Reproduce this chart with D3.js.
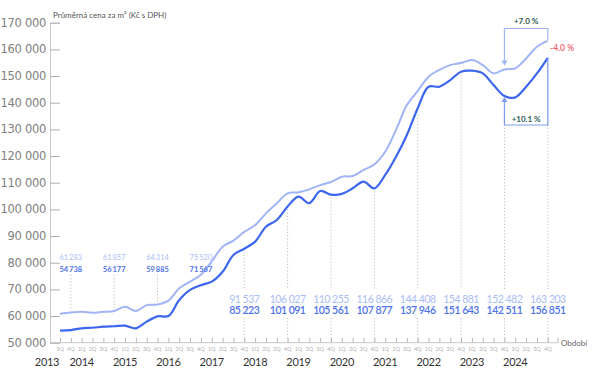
<!DOCTYPE html>
<html><head><meta charset="utf-8">
<script src="https://cdn.jsdelivr.net/npm/d3@7"></script>
<style>
html,body{margin:0;padding:0;background:#fff;}
svg{display:block;font-family:Lato,"Open Sans",sans-serif;}
</style></head>
<body><svg id="c" width="600" height="380"></svg>
<script>
const quarterLabels = ["3Q","4Q",
 "1Q","2Q","3Q","4Q","1Q","2Q","3Q","4Q","1Q","2Q","3Q","4Q",
 "1Q","2Q","3Q","4Q","1Q","2Q","3Q","4Q","1Q","2Q","3Q","4Q",
 "1Q","2Q","3Q","4Q","1Q","2Q","3Q","4Q","1Q","2Q","3Q","4Q",
 "1Q","2Q","3Q","4Q","1Q","2Q","3Q","4Q"];
const years = [2013,2014,2015,2016,2017,2018,2019,2020,2021,2022,2023,2024];
const yearStartIndex = [-1,2,6,10,14,18,22,26,30,34,38,42];
const offerPrice = [60800,61283,61600,61250,61600,61857,63500,61900,64100,64314,65750,70400,72900,75520,
 80500,86000,88300,91537,94100,98500,102300,106027,106400,107500,109100,110255,112250,112500,114800,116866,
 121600,129800,139100,144408,149750,152300,154100,154881,156000,154100,151000,152482,152900,156600,161000,163203];
const salePrice = [54500,54738,55400,55600,56000,56177,56400,55400,57900,59885,60000,66000,69800,71567,
 72900,76600,82900,85223,87900,93500,96000,101091,104750,102300,106900,105561,105800,107900,110400,107877,
 112900,119750,127900,137946,146000,146000,148500,151643,152000,151000,146600,142511,142000,146000,151000,156851];
const labelIdx = [1,5,9,13,17,21,25,29,33,37,41,45];
const yTicks = [50000,60000,70000,80000,90000,100000,110000,120000,130000,140000,150000,160000,170000];
const changes = ["+7.0 %","+10.1 %","-4.0 %"];

const svg = d3.select("#c");
const x = d3.scaleLinear().domain([0,45]).range([60,547.8]);
const y = d3.scaleLinear().domain([50000,170000]).range([342.7,22.7]);
const fmt = v => d3.format(",")(v).replace(/,/g,"\u2009");
const fmtS = v => d3.format(",")(v).replace(/,/g," ");
const fmtY = v => d3.format(",")(v).replace(/,/g," ");

const DARK="#3c66f0", LIGHT="#9fb5f7", GRID="#bdbdbd", AX="#c8c8c8";

// y axis
const yAxis = svg.append("g").attr("transform","translate(50,0)")
 .call(d3.axisRight(y).tickValues(yTicks).tickSize(10).tickFormat(""));
yAxis.select(".domain").attr("stroke",AX);
yAxis.selectAll(".tick line").attr("stroke","#b0b0b0");
svg.append("g").selectAll("text").data(yTicks).join("text")
 .attr("x",46).attr("y",d=>y(d)+4).attr("text-anchor","end")
 .attr("font-size",11.5).attr("fill","#808080").attr("font-family","'DejaVu Sans',sans-serif")
 .attr("letter-spacing",-0.3).text(fmtY);
svg.append("text").attr("x",53).attr("y",18).attr("font-size",8).attr("fill","#555")
 .text("Průměrná cena za m² (Kč s DPH)");

// x axis
const xAxis = svg.append("g").attr("transform","translate(0,342.7)")
 .call(d3.axisTop(x).tickValues(d3.range(46)).tickSize(5).tickFormat("").tickSizeOuter(0));
xAxis.select(".domain").attr("stroke",AX).attr("d","M50,0H558");
xAxis.selectAll(".tick line").attr("stroke","#b8b8b8");
svg.append("line").attr("x1",558).attr("x2",558).attr("y1",337.7).attr("y2",342.7).attr("stroke","#b8b8b8");
svg.append("g").selectAll("text").data(quarterLabels).join("text")
 .attr("x",(d,i)=>x(i)).attr("y",350.5).attr("text-anchor","middle")
 .attr("font-size",5.5).attr("fill","#b0b0b0").text(d=>d);
svg.append("g").selectAll("text").data(years).join("text")
 .attr("x",(d,i)=>i===0?47:x(yearStartIndex[i])).attr("y",366).attr("text-anchor","middle")
 .attr("font-size",11).attr("fill","#333").attr("letter-spacing",-0.3).text(d=>d);
svg.append("text").attr("x",561).attr("y",345.5).attr("font-size",8).attr("fill","#666").text("Období");

// dotted guides
const guides = svg.append("g").attr("stroke",GRID).attr("stroke-dasharray","1.2,2").attr("stroke-width",1);
labelIdx.forEach((i,k)=>{
  const xx = x(i);
  if(k<4){
    const yl = y(offerPrice[i]);
    if(yl>276) guides.append("line").attr("x1",xx).attr("x2",xx).attr("y1",275).attr("y2",yl-2);
  } else {
    guides.append("line").attr("x1",xx).attr("x2",xx).attr("y1",y(salePrice[i])+3).attr("y2",289);
    guides.append("line").attr("x1",xx).attr("x2",xx).attr("y1",318).attr("y2",342);
  }
});

// lines
const line = d3.line().x((d,i)=>x(i)).y(d=>y(d)).curve(d3.curveCatmullRom.alpha(0.5));
svg.append("path").attr("d",line(offerPrice)).attr("fill","none").attr("stroke",LIGHT).attr("stroke-width",2);
svg.append("path").attr("d",line(salePrice)).attr("fill","none").attr("stroke",DARK).attr("stroke-width",2.2);

// value labels
labelIdx.forEach((i,k)=>{
  const xx = x(i);
  if(k<4){
    svg.append("text").attr("x",xx).attr("y",260).attr("text-anchor","middle")
     .attr("font-size",7.5).attr("fill","#a9bcf7").text(fmt(offerPrice[i]));
    svg.append("text").attr("x",xx).attr("y",272).attr("text-anchor","middle")
     .attr("font-size",7.5).attr("font-weight",700).attr("fill","#4d72ea").text(fmt(salePrice[i]));
  } else {
    svg.append("text").attr("x",xx).attr("y",302.5).attr("text-anchor","middle")
     .attr("font-size",10.5).attr("letter-spacing",-0.5).attr("fill","#a9bcf7").text(fmtS(offerPrice[i]));
    svg.append("text").attr("x",xx).attr("y",314).attr("text-anchor","middle")
     .attr("font-size",10.5).attr("letter-spacing",-0.5).attr("font-weight",600).attr("fill","#4d72ea").text(fmtS(salePrice[i]));
  }
});

// brackets
const xa = x(41), xb = x(45);
const br = svg.append("g").attr("fill","none");
br.append("path").attr("d",`M${xa},${y(offerPrice[41])-6}V28.5H${xb}V${y(offerPrice[45])-1}`)
 .attr("stroke",LIGHT).attr("stroke-width",1.2);
svg.append("path").attr("d",`M${xa-3},${y(offerPrice[41])-9}L${xa+3},${y(offerPrice[41])-9}L${xa},${y(offerPrice[41])-4}Z`).attr("fill",LIGHT);
br.append("path").attr("d",`M${xa},${y(salePrice[41])+5}V125H${xb}V${y(salePrice[45])+1}`)
 .attr("stroke","#7f9cf5").attr("stroke-width",1.2);
svg.append("path").attr("d",`M${xa-3},${y(salePrice[41])+6}L${xa+3},${y(salePrice[41])+6}L${xa},${y(salePrice[41])+1}Z`).attr("fill","#7f9cf5");
svg.append("text").attr("x",(xa+xb)/2).attr("y",24).attr("text-anchor","middle").attr("font-size",8)
 .attr("font-weight",700).attr("fill","#2f5a4f").text(changes[0]);
svg.append("text").attr("x",(xa+xb)/2).attr("y",122).attr("text-anchor","middle").attr("font-size",8)
 .attr("font-weight",700).attr("fill","#2f5a4f").text(changes[1]);
svg.append("text").attr("x",550).attr("y",51).attr("font-size",8.5)
 .attr("font-weight",600).attr("fill","#f06262").text(changes[2]);
</script></body></html>
